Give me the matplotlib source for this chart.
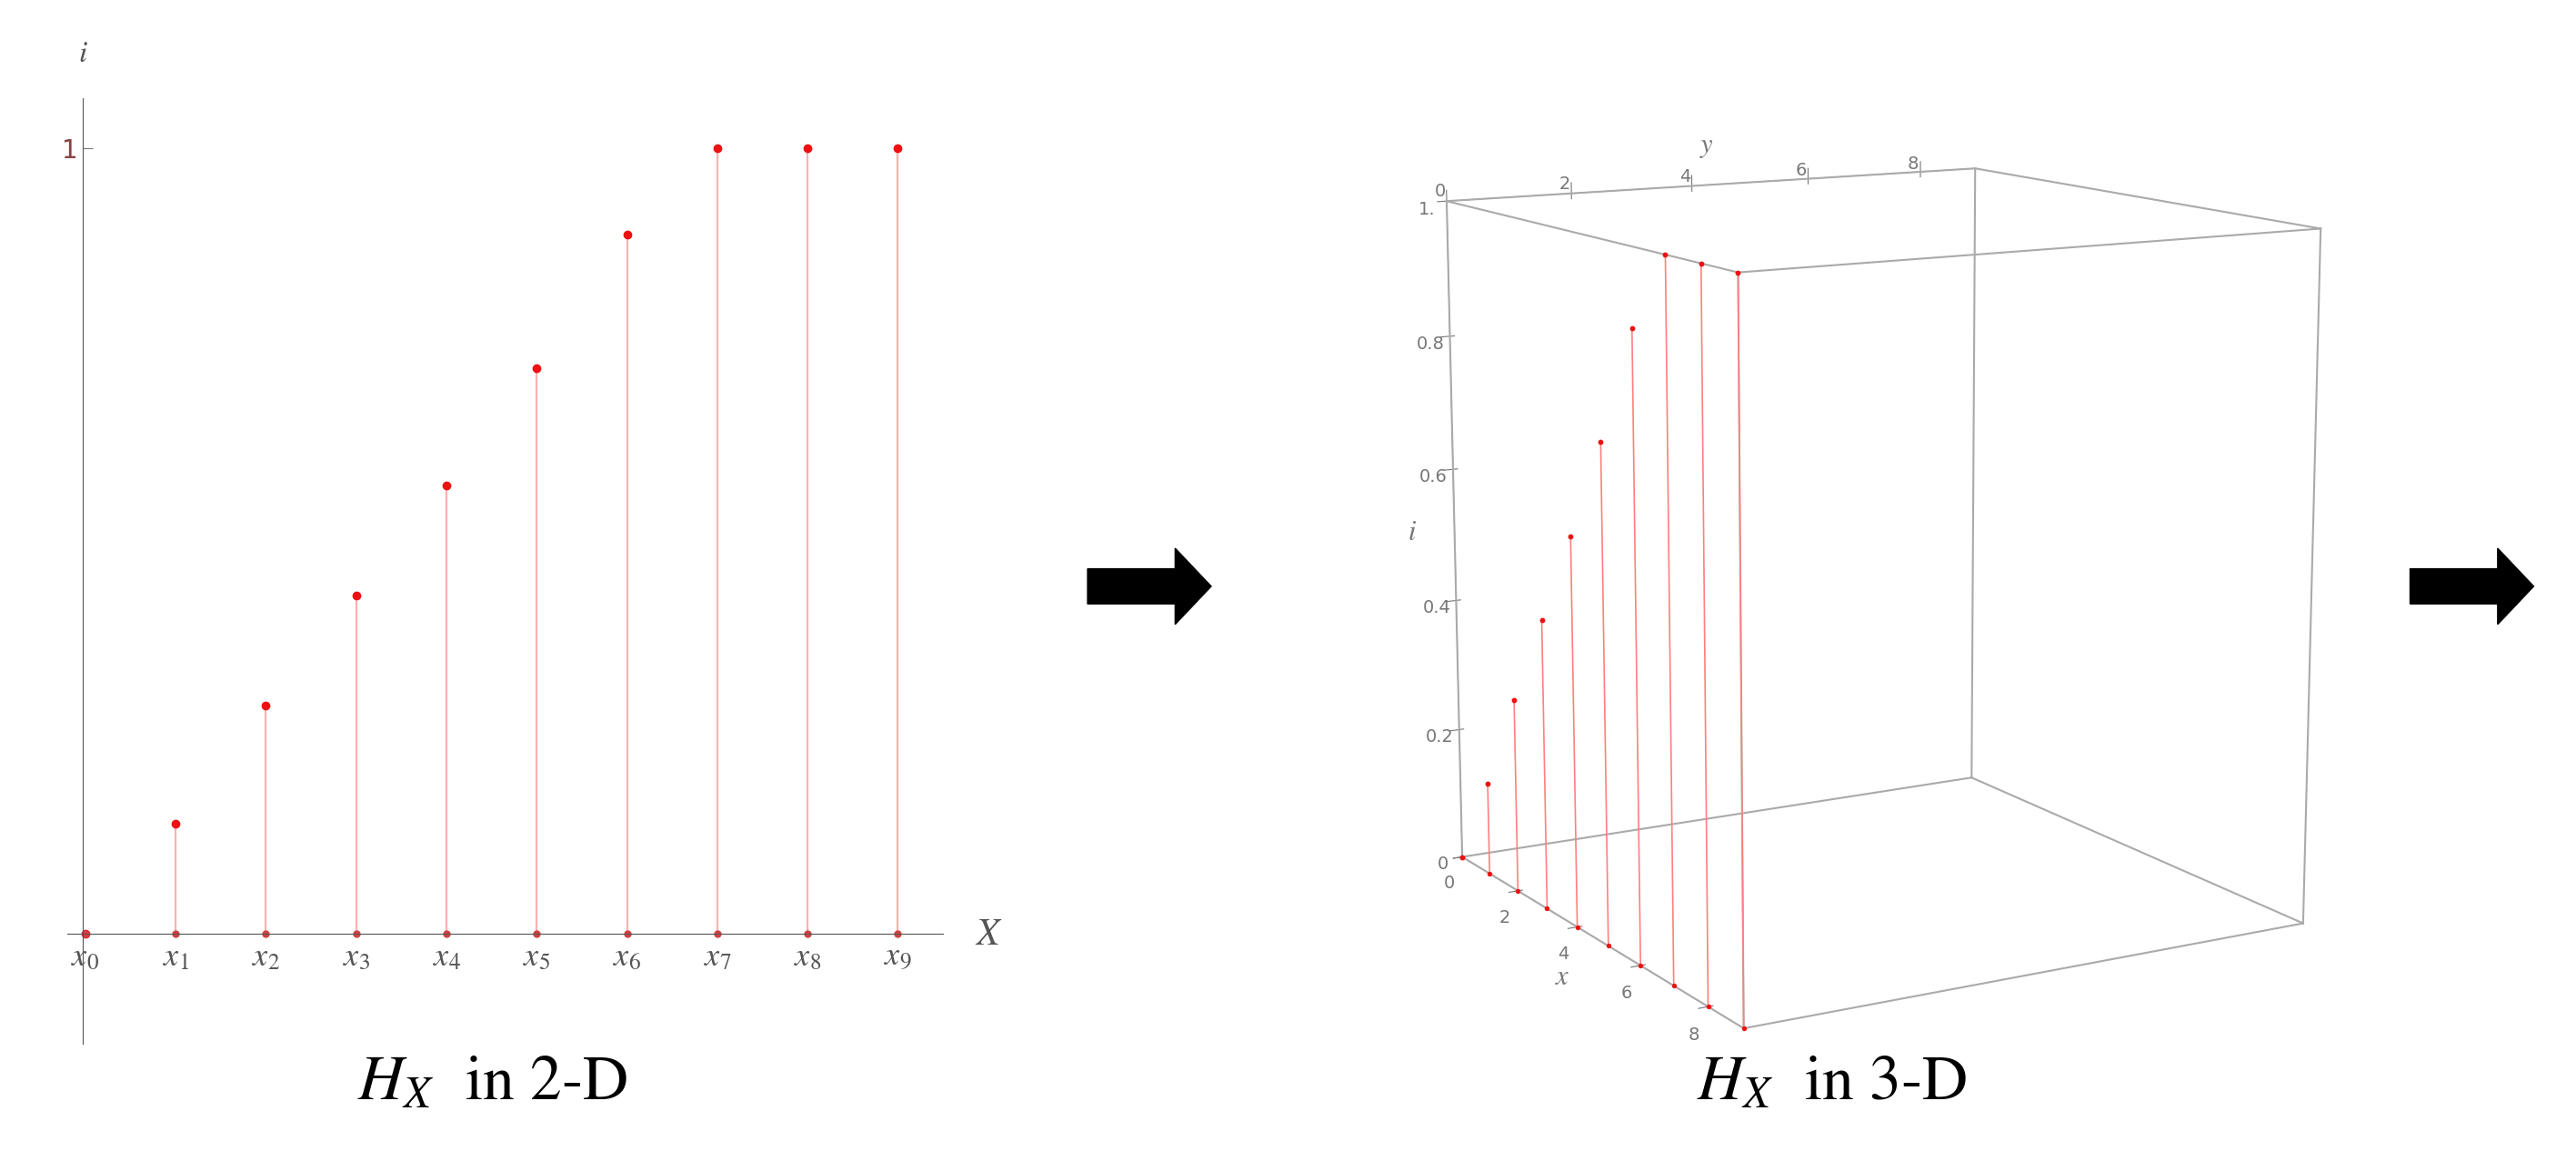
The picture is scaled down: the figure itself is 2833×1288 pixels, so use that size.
import matplotlib.pyplot as plt
from matplotlib.patches import FancyArrow
from mpl_toolkits.mplot3d import Axes3D  # noqa

plt.rcParams['mathtext.fontset'] = 'stix'

xs = [0, 1, 2, 3, 4, 5, 6, 7, 8, 9]
hx = [0.0, 0.14, 0.29, 0.43, 0.57, 0.72, 0.89, 1.0, 1.0, 1.0]
tickLabels = ['$x_%d$' % i for i in xs]
red = '#ee1111'
pink = '#ffb0b0'

fig = plt.figure(figsize=(28.33, 12.88), dpi=100)

# 2-D panel
ax = fig.add_axes([41 / 1568, 0.109, 533 / 1568, 0.807])
ax.set_xlim(-0.2, 9.5)
ax.set_ylim(-0.14, 1.063)
ax.vlines(xs, 0, hx, color=pink, lw=1.6)
ax.plot(xs, hx, 'o', color=red, ms=6)
ax.plot(xs, [0] * len(xs), 'o', color='#d04040', ms=5)
for s in ['top', 'right']:
    ax.spines[s].set_visible(False)
ax.spines['left'].set_position(('data', -0.03))
ax.spines['bottom'].set_position(('data', 0))
for s in ['left', 'bottom']:
    ax.spines[s].set_color('#555555')
ax.set_xticks(xs)
ax.set_xticklabels(tickLabels, fontsize=26, color='#555555')
ax.set_yticks([1])
ax.set_yticklabels(['1'], fontsize=20, color='#884444')
ax.tick_params(axis='x', length=0, pad=6)
ax.tick_params(axis='y', length=8, direction='in', color='#777777')
ax.text(-0.03, 1.11, '$i$', fontsize=24, color='#555555', ha='center', transform=ax.transData)
ax.text(9.85, 0.0, '$X$', fontsize=30, color='#555555', va='center')

# 3-D panel
ax3 = fig.add_axes([0.47, 0.02, 0.5, 0.98], projection='3d')
ax3.set_proj_type('persp', focal_length=0.6)
ax3.set_xlim(0, 9)
ax3.set_ylim(0, 9)
ax3.set_zlim(0, 1)
ax3.view_init(elev=12, azim=-30)
ax3.set_box_aspect((1, 1, 1.1), zoom=0.95)
for a in [ax3.xaxis, ax3.yaxis, ax3.zaxis]:
    a.pane.set_visible(False)
    a.line.set_color('#999999')
ax3.grid(False)
ax3.set_xticks([0, 2, 4, 6, 8])
ax3.set_yticks([0, 2, 4, 6, 8])
ax3.set_zticks([0, 0.2, 0.4, 0.6, 0.8, 1.0])
ax3.set_zticklabels(['0', '0.2', '0.4', '0.6', '0.8', '1.'])
try:
    ax3.zaxis.set_ticks_position('lower')
    ax3.zaxis.set_label_position('lower')
    ax3.yaxis.set_ticks_position('upper')
    ax3.yaxis.set_label_position('upper')
except Exception:
    pass
ax3.tick_params(labelsize=14, colors='#777777')
ax3.set_xlabel('$x$', fontsize=22, color='#777777')
ax3.set_ylabel('$y$', fontsize=22, color='#777777')
ax3.set_zlabel('$i$', fontsize=22, color='#777777')
edge = '#aaaaaa'
for a0 in [0, 9]:
    for b0 in [0, 9]:
        ax3.plot([0, 9], [a0, a0], [b0 / 9, b0 / 9], color=edge, lw=1.5)
        ax3.plot([a0, a0], [0, 9], [b0 / 9, b0 / 9], color=edge, lw=1.5)
        ax3.plot([a0, a0], [b0, b0], [0, 1], color=edge, lw=1.5)
for x, h in zip(xs, hx):
    ax3.plot([x, x], [0, 0], [0, h], color='#ff8080', lw=1.2)
ax3.scatter(xs, [0] * len(xs), hx, color=red, s=10, depthshade=False)
ax3.scatter(xs, [0] * len(xs), [0] * len(xs), color=red, s=8, depthshade=False)

# arrows
for x0 in [662 / 1568, 1467 / 1568]:
    fig.patches.append(FancyArrow(x0, 1 - 357 / 713, 0.034, 0, width=0.03, head_width=0.065,
                                  head_length=0.014, color='black', transform=fig.transFigure))

fig.text(300 / 1568, 1 - 660 / 713, '$H_X$  in 2-D', fontsize=50, ha='center', va='center',
         family='STIXGeneral')
fig.text(1115 / 1568, 1 - 660 / 713, '$H_X$  in 3-D', fontsize=50, ha='center', va='center',
         family='STIXGeneral')

fig.savefig('out.png', dpi=100, facecolor='white')
